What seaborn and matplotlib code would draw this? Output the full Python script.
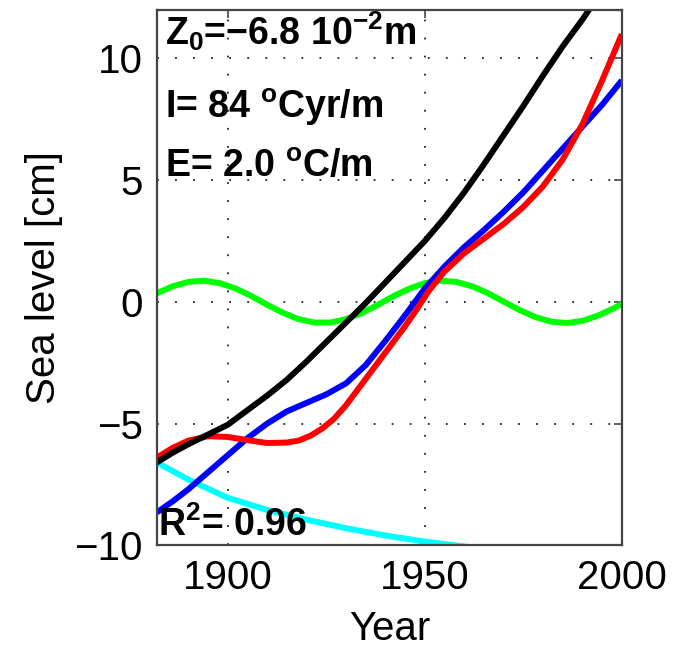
import numpy as np
import pandas as pd
import matplotlib
matplotlib.use("Agg")
import matplotlib.pyplot as plt
import seaborn as sns

# ---- data ----
black_years = [1882, 1886, 1890, 1895, 1900, 1905, 1910, 1915, 1920, 1925, 1930, 1935,
               1940, 1945, 1950, 1955, 1960, 1965, 1970, 1975, 1980, 1985, 1990, 1995]
black_vals = [-6.6, -6.2, -5.85, -5.45, -5.05, -4.45, -3.85, -3.2, -2.45, -1.65, -0.85, -0.05,
              0.8, 1.65, 2.5, 3.45, 4.5, 5.65, 6.85, 8.05, 9.3, 10.5, 11.6, 12.8]

blue_years = [1882, 1886, 1890, 1895, 1900, 1905, 1910, 1915, 1920, 1925, 1930, 1935,
              1940, 1945, 1950, 1955, 1960, 1965, 1970, 1975, 1980, 1985, 1990, 1995, 2000]
blue_vals = [-8.65, -8.2, -7.7, -7.0, -6.3, -5.6, -5.0, -4.5, -4.15, -3.8, -3.35, -2.6,
             -1.6, -0.55, 0.55, 1.45, 2.25, 2.95, 3.7, 4.5, 5.4, 6.3, 7.2, 8.1, 9.1]

red_years = [1882, 1886, 1890, 1895, 1900, 1905, 1910, 1915, 1918, 1921, 1924, 1927,
             1930, 1933, 1936, 1939, 1942, 1945, 1948, 1951, 1955, 1960, 1965, 1970,
             1975, 1980, 1985, 1990, 1995, 2000]
red_vals = [-6.4, -6.0, -5.7, -5.52, -5.55, -5.68, -5.8, -5.78, -5.7, -5.5, -5.2, -4.8,
            -4.25, -3.6, -2.95, -2.3, -1.65, -1.0, -0.3, 0.45, 1.25, 2.0, 2.6, 3.2,
            3.9, 4.75, 5.85, 7.3, 9.1, 11.0]

cyan_years = [1882, 1890, 1900, 1910, 1920, 1930, 1940, 1950, 1960, 1970, 1980, 1990, 2000]
cyan_vals = [-6.6, -7.3, -8.05, -8.55, -8.95, -9.3, -9.6, -9.85, -10.05, -10.2, -10.35, -10.5, -10.65]

green_years = [1882, 1886, 1890, 1894, 1898, 1902, 1906, 1910, 1914, 1918, 1922, 1926,
               1930, 1934, 1938, 1942, 1946, 1950, 1954, 1958, 1962, 1966, 1970, 1974,
               1978, 1982, 1986, 1990, 1994, 1998, 2000]
green_vals = [0.35, 0.64, 0.82, 0.87, 0.77, 0.55, 0.24, -0.12, -0.45, -0.71, -0.85, -0.85,
              -0.71, -0.46, -0.13, 0.23, 0.54, 0.77, 0.87, 0.82, 0.64, 0.36, 0.01, -0.33,
              -0.62, -0.81, -0.87, -0.78, -0.56, -0.26, -0.08]

x_ticks = [1900, 1950, 2000]
y_ticks = [-10, -5, 0, 5, 10]
x_label = "Year"
y_label = "Sea level [cm]"
annotations = [r"Z$_0$=$-$6.8 10$^{-2}$m", r"I= 84 $^{\rm o}$Cyr/m", r"E= 2.0 $^{\rm o}$C/m"]
r2_text = r"R$^2$= 0.96"

# ---- style ----
sns.set_theme(style="white")
plt.rcParams["font.family"] = ["Liberation Sans", "DejaVu Sans"]
plt.rcParams["text.color"] = "black"
plt.rcParams["axes.labelcolor"] = "black"
plt.rcParams["mathtext.fontset"] = "custom"
plt.rcParams["mathtext.rm"] = "Liberation Sans:bold"
plt.rcParams["mathtext.it"] = "Liberation Sans:bold"
plt.rcParams["mathtext.bf"] = "Liberation Sans:bold"
plt.rcParams["mathtext.default"] = "rm"

fig = plt.figure(figsize=(6.73, 6.53), dpi=100)
ax = fig.add_axes([0.233, 0.165, 0.691, 0.820])

series = [
    (cyan_years, cyan_vals, "#00ffff"),
    (green_years, green_vals, "#00ff00"),
    (blue_years, blue_vals, "#0000ff"),
    (red_years, red_vals, "#ff0000"),
    (black_years, black_vals, "#000000"),
]
for yrs, vals, col in series:
    df = pd.DataFrame({"year": yrs, "level": vals})
    sns.lineplot(data=df, x="year", y="level", color=col, linewidth=4.3, ax=ax,
                 solid_capstyle="butt", solid_joinstyle="round")

ax.set_xlim(1882, 2000)
ax.set_ylim(-10, 12)
ax.set_xticks(x_ticks)
ax.set_yticks(y_ticks)
ax.grid(True, color="#222222", linestyle=(0, (1, 9)), linewidth=1.3)
for s in ax.spines.values():
    s.set_color("#444444")
    s.set_linewidth(1.6)
    s.set_visible(True)
ax.tick_params(direction="in", length=6, width=1.2, color="#444444",
               top=True, right=True, labelsize=29, pad=10, labelcolor="black")
ax.set_xlabel(x_label, fontsize=29, labelpad=9, color="black")
ax.set_ylabel(y_label, fontsize=29, labelpad=8, color="black")

ys = [0.935, 0.797, 0.688]
for t, yv in zip(annotations, ys):
    ax.text(0.018, yv, t, transform=ax.transAxes, fontsize=27, fontweight="bold",
            va="baseline", ha="left", color="black")
ax.text(0.002, 0.018, r2_text, transform=ax.transAxes, fontsize=27, fontweight="bold",
        va="baseline", ha="left", color="black")

fig.savefig("out.png", dpi=100, facecolor="white")
